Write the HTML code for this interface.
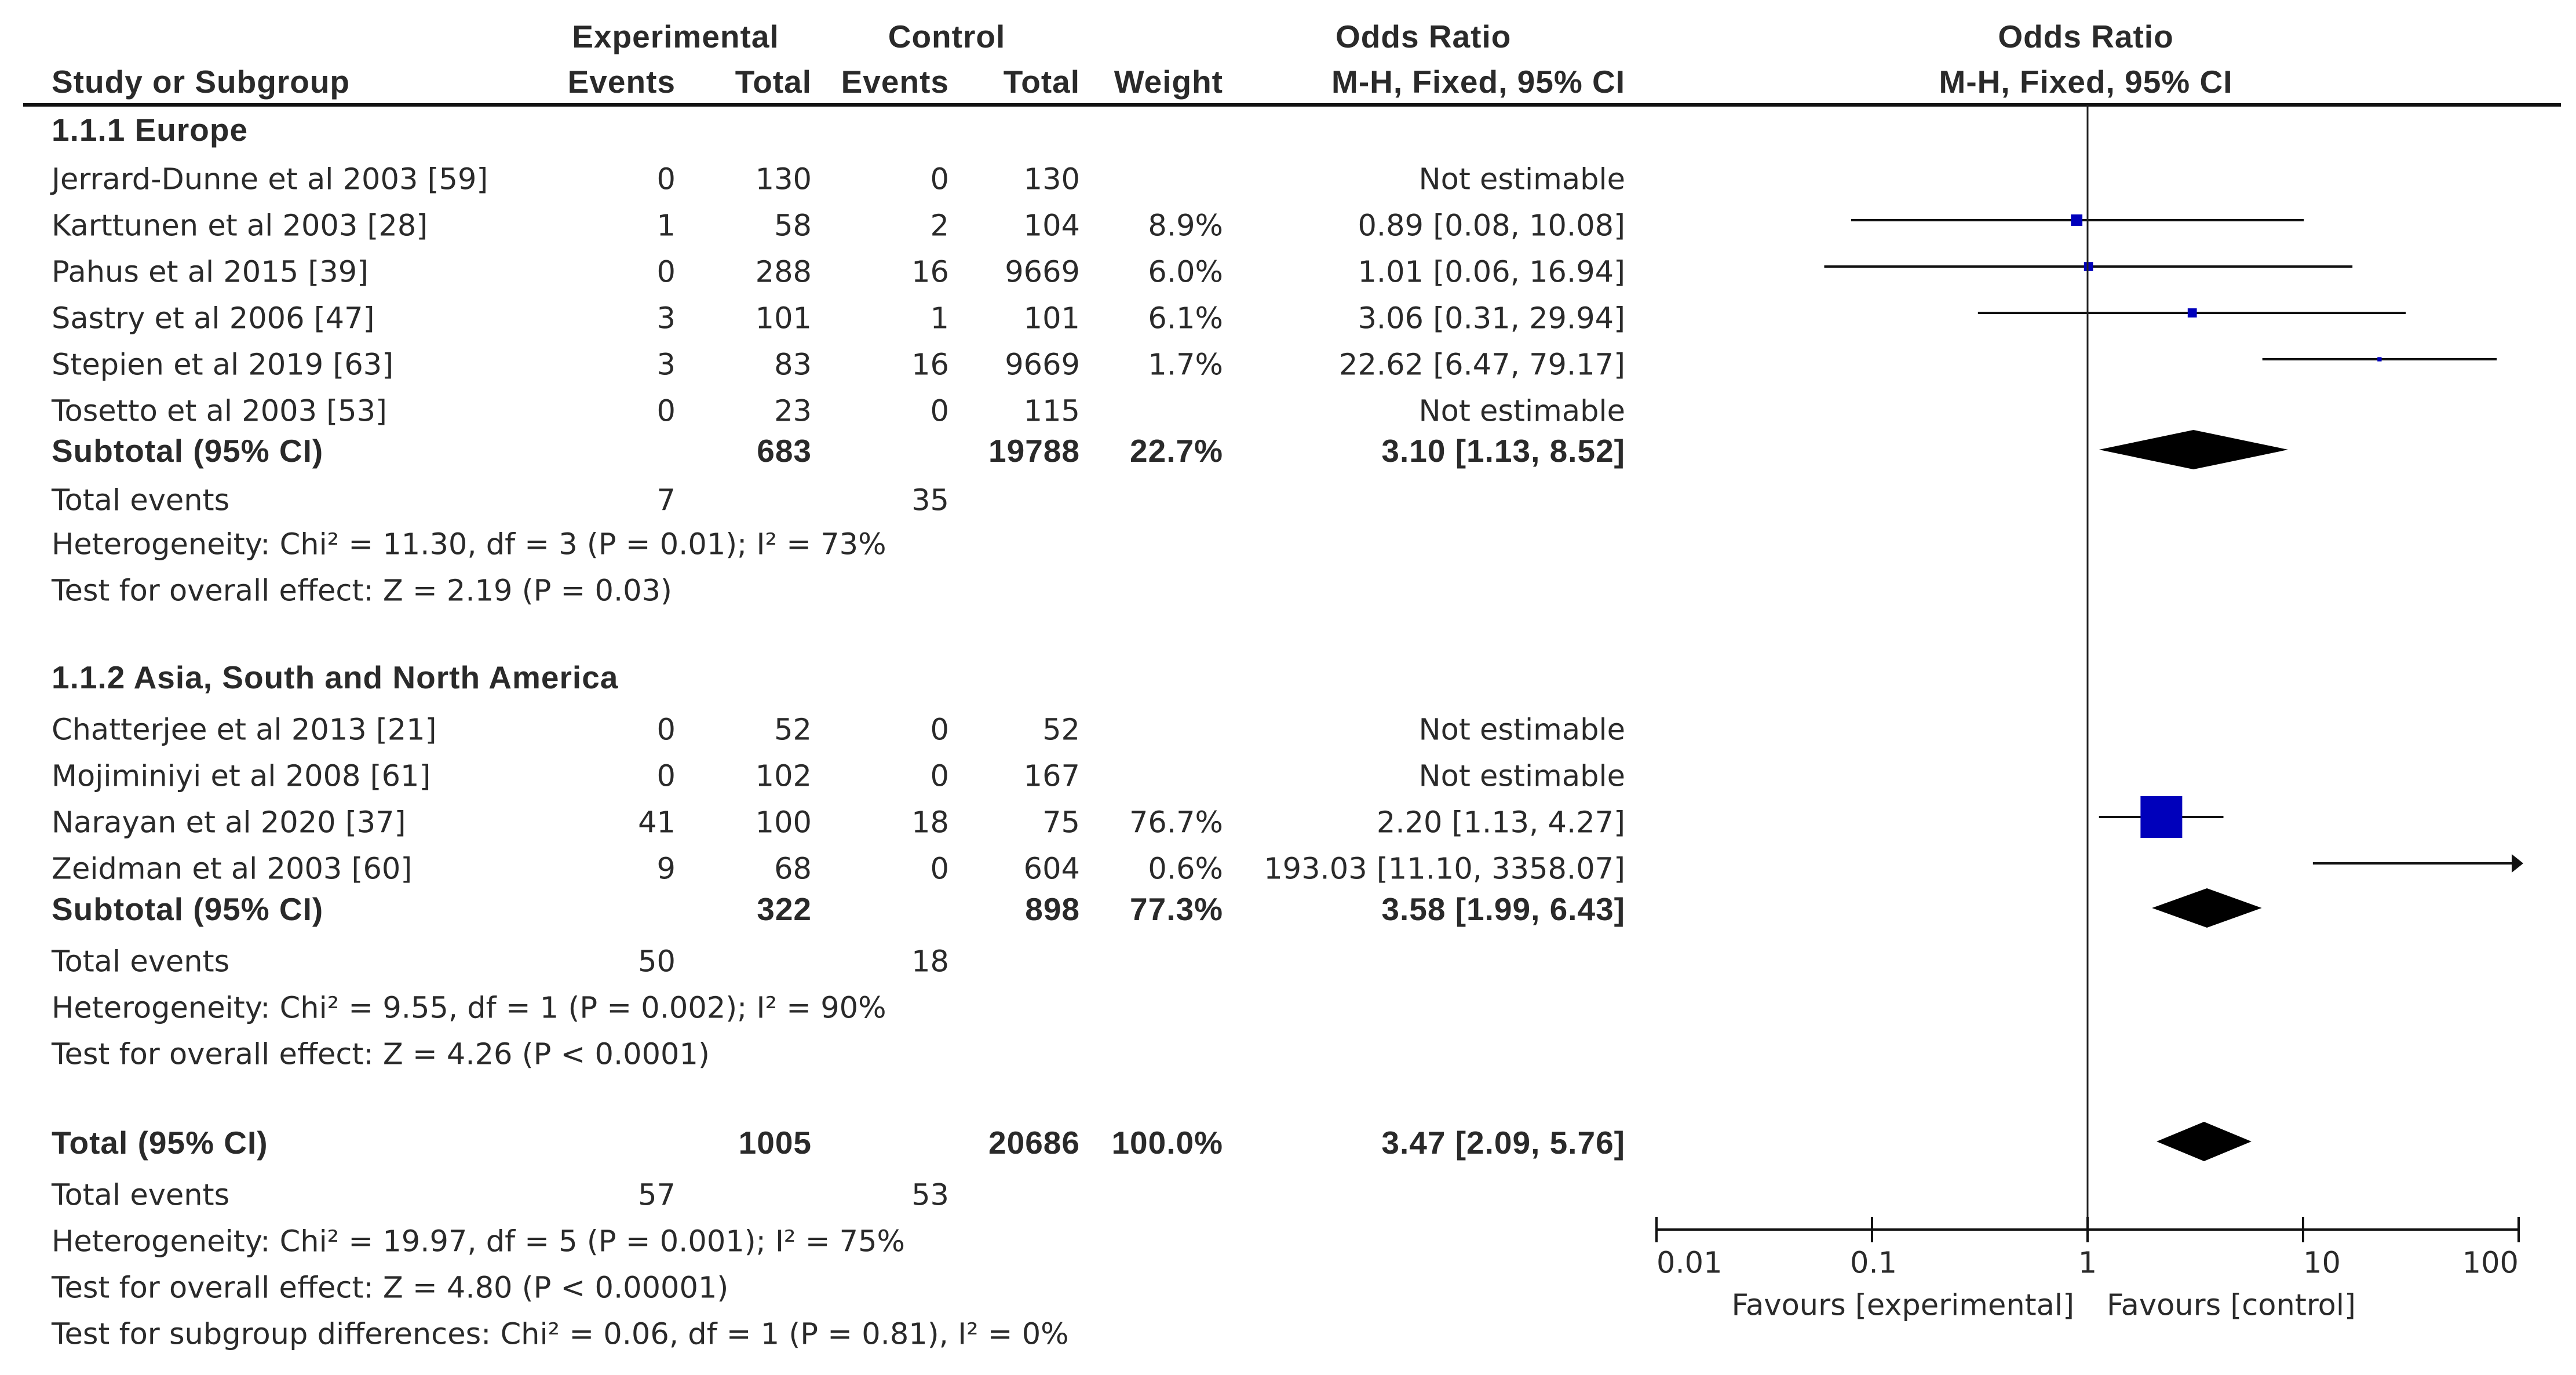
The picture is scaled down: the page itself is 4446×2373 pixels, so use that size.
<!DOCTYPE html>
<html><head><meta charset="utf-8"><style>
html,body{margin:0;padding:0;background:#fff;}
svg{display:block;font-family:"DejaVu Sans","Liberation Sans",sans-serif;}
text{fill:#2a2a2a;font-size:51px;dominant-baseline:central;}
.b{font-weight:bold;font-family:"Liberation Sans",sans-serif;font-size:55px;letter-spacing:1px;}
.r{text-anchor:end;}
.c{text-anchor:middle;}
</style></head><body>
<svg id="chart" width="4446" height="2373" viewBox="0 0 4446 2373" xmlns="http://www.w3.org/2000/svg">
<g>
<text class="b c" x="1166" y="63">Experimental</text>
<text class="b c" x="1634" y="63">Control</text>
<text class="b" x="2305" y="63">Odds Ratio</text>
<text class="b c" x="3600" y="63">Odds Ratio</text>
<text class="b" x="89" y="141">Study or Subgroup</text>
<text class="b r" x="1166" y="141">Events</text>
<text class="b r" x="1401" y="141">Total</text>
<text class="b r" x="1638" y="141">Events</text>
<text class="b r" x="1864" y="141">Total</text>
<text class="b r" x="2111" y="141">Weight</text>
<text class="b r" x="2805" y="141">M-H, Fixed, 95% CI</text>
<text class="b c" x="3600" y="141">M-H, Fixed, 95% CI</text>
<line x1="40" y1="181" x2="4420" y2="181" stroke="#111" stroke-width="6"/>
</g>
<g id="table"></g>
<g id="plot"></g>
</svg>
<script>
const rowY = [310,390,470,550,630,710, 1260,1340,1420,1500];
const studies = ["Jerrard-Dunne et al 2003 [59]","Karttunen et al 2003 [28]","Pahus et al 2015 [39]","Sastry et al 2006 [47]","Stepien et al 2019 [63]","Tosetto et al 2003 [53]","Chatterjee et al 2013 [21]","Mojiminiyi et al 2008 [61]","Narayan et al 2020 [37]","Zeidman et al 2003 [60]"];
const expEvents = [0,1,0,3,3,0,0,0,41,9];
const expTotal = [130,58,288,101,83,23,52,102,100,68];
const ctrlEvents = [0,2,16,1,16,0,0,0,18,0];
const ctrlTotal = [130,104,9669,101,9669,115,52,167,75,604];
const weights = [null,8.9,6.0,6.1,1.7,null,null,null,76.7,0.6];
const orValue = [null,0.89,1.01,3.06,22.62,null,null,null,2.20,193.03];
const orLow = [null,0.08,0.06,0.31,6.47,null,null,null,1.13,11.10];
const orHigh = [null,10.08,16.94,29.94,79.17,null,null,null,4.27,3358.07];
const summaryLabels = ["Subtotal (95% CI)","Subtotal (95% CI)","Total (95% CI)"];
const summaryY = [778,1569,1972];
const summaryExpTotal = [683,322,1005];
const summaryCtrlTotal = [19788,898,20686];
const summaryWeight = ["22.7%","77.3%","100.0%"];
const summaryOR = [3.10,3.58,3.47];
const summaryLow = [1.13,1.99,2.09];
const summaryHigh = [8.52,6.43,5.76];
const tickValues = [0.01,0.1,1,10,100];
const tickLabels = ["0.01","0.1","1","10","100"];

const NS="http://www.w3.org/2000/svg";
const table=document.getElementById('table'), plot=document.getElementById('plot');
function mk(tag,attrs,parent,txt){const e=document.createElementNS(NS,tag);for(const k in attrs)e.setAttribute(k,attrs[k]);if(txt!==undefined)e.textContent=txt;parent.appendChild(e);return e;}
const X0=3603, DEC=372, XMIN=2859, XMAX=4347, AXY=2122;
function xs(v){return X0+DEC*Math.log10(v);}
function fmt(v){return v.toFixed(2);}
function txt(x,y,s,cls,name){const t=mk('text',{x:x,y:y,class:cls||''},table,s);

return t;}

txt(89,224,"1.1.1 Europe","b","subgroup-europe-title");
txt(89,1169,"1.1.2 Asia, South and North America","b","subgroup-asia-america-title");
const extra=[
 [864,"Total events",7,35],[940,"Heterogeneity: Chi² = 11.30, df = 3 (P = 0.01); I² = 73%"],[1020,"Test for overall effect: Z = 2.19 (P = 0.03)"],
 [1660,"Total events",50,18],[1740,"Heterogeneity: Chi² = 9.55, df = 1 (P = 0.002); I² = 90%"],[1820,"Test for overall effect: Z = 4.26 (P < 0.0001)"],
 [2063,"Total events",57,53],[2143,"Heterogeneity: Chi² = 19.97, df = 5 (P = 0.001); I² = 75%"],[2223,"Test for overall effect: Z = 4.80 (P < 0.00001)"],
 [2303,"Test for subgroup differences: Chi² = 0.06, df = 1 (P = 0.81), I² = 0%"]];
extra.forEach(r=>{txt(89,r[0],r[1],"","stat-line");
 if(r[2]!==undefined){txt(1166,r[0],r[2],"r","total-events-exp");txt(1638,r[0],r[3],"r","total-events-ctrl");}});

studies.forEach((s,i)=>{const y=rowY[i];
 txt(89,y,s,"","study-name");
 txt(1166,y,expEvents[i],"r","exp-events");
 txt(1401,y,expTotal[i],"r","exp-total");
 txt(1638,y,ctrlEvents[i],"r","ctrl-events");
 txt(1864,y,ctrlTotal[i],"r","ctrl-total");
 if(weights[i]!==null) txt(2111,y,weights[i].toFixed(1)+"%","r","weight");
 if(orValue[i]===null){txt(2805,y,"Not estimable","r","odds-ratio-text");return;}
 txt(2805,y,fmt(orValue[i])+" ["+fmt(orLow[i])+", "+fmt(orHigh[i])+"]","r","odds-ratio-text");
 const ly=y-10;
 const lo=Math.max(XMIN,xs(orLow[i])), hiRaw=xs(orHigh[i]), hi=Math.min(XMAX,hiRaw);
 const l=mk('line',{x1:lo,y1:ly,x2:hi,y2:ly,stroke:'#111','stroke-width':4},plot);
 
 
 if(hiRaw>XMAX){const a=mk('polygon',{points:`${XMAX+8},${ly} ${XMAX-12},${ly-16} ${XMAX-12},${ly+16}`,fill:'#111'},plot);
  
  }
 const cx=xs(orValue[i]);
 if(cx<=XMAX){const side=72*Math.pow(weights[i]/76.7,0.6);
  const r=mk('rect',{x:cx-side/2,y:ly-side/2,width:side,height:side,fill:'#0000bb'},plot);
  
  }
});

summaryLabels.forEach((s,i)=>{const y=summaryY[i];
 txt(89,y,s,"b","summary-label");
 txt(1401,y,summaryExpTotal[i],"b r","summary-exp-total");
 txt(1864,y,summaryCtrlTotal[i],"b r","summary-ctrl-total");
 txt(2111,y,summaryWeight[i],"b r","summary-weight");
 txt(2805,y,fmt(summaryOR[i])+" ["+fmt(summaryLow[i])+", "+fmt(summaryHigh[i])+"]","b r","summary-or-text");
 const dy=y-2;
 const d=mk('polygon',{points:`${xs(summaryLow[i])},${dy} ${xs(summaryOR[i])},${dy-34} ${xs(summaryHigh[i])},${dy} ${xs(summaryOR[i])},${dy+34}`,fill:'#000'},plot);
 
 
});

const nl=mk('line',{x1:X0,y1:181,x2:X0,y2:AXY,stroke:'#222','stroke-width':3},plot);


const ax=mk('line',{x1:XMIN,y1:AXY,x2:XMAX,y2:AXY,stroke:'#111','stroke-width':4},plot);


tickValues.forEach((v,i)=>{const x=xs(v);
 const t=mk('line',{x1:x,y1:AXY-22,x2:x,y2:AXY+22,stroke:'#111','stroke-width':4},plot);
 
 
 const anchor=i===0?'start':(i===tickValues.length-1?'end':(v===1?'middle':'start'));
 const off=v===0.1?-38:0;
 const lb=mk('text',{x:x+off,y:2180,'text-anchor':anchor},plot,tickLabels[i]);
 
 
});
const f1=mk('text',{x:3580,y:2253,'text-anchor':'end'},plot,"Favours [experimental]");


const f2=mk('text',{x:3636,y:2253,'text-anchor':'start'},plot,"Favours [control]");


</script>
</body></html>
